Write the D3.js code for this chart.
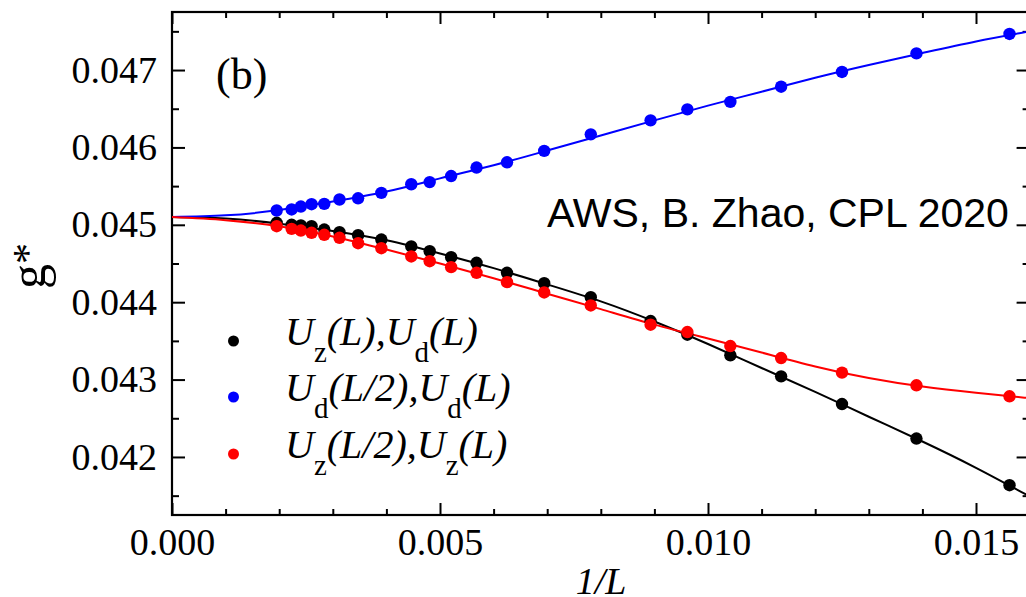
<!DOCTYPE html>
<html><head><meta charset="utf-8">
<script src="https://cdn.jsdelivr.net/npm/d3@7/dist/d3.min.js"></script>
<style>body{margin:0;background:#fff}svg{display:block}</style>
</head><body>
<svg id="c" width="1026" height="597"></svg>
<script>
// ---- data ----
const invL = [0.001953,0.002232,0.002404,0.002604,0.002841,0.003125,0.003472,0.003906,0.004464,0.004808,0.005208,0.005682,0.006250,0.006944,0.007813,0.008929,0.009615,0.010417,0.011364,0.012500,0.013889,0.015625];
const gBlack = [0.045026,0.045000,0.044991,0.044982,0.044939,0.044904,0.044866,0.044810,0.044720,0.044659,0.044582,0.044509,0.044380,0.044246,0.044065,0.043756,0.043580,0.043313,0.043042,0.042684,0.042238,0.041635];
const gBlue  = [0.045185,0.045198,0.045236,0.045266,0.045271,0.045327,0.045343,0.045413,0.045524,0.045552,0.045630,0.045740,0.045808,0.045955,0.046169,0.046350,0.046492,0.046588,0.046785,0.046975,0.047215,0.047466];
const gRed   = [0.044982,0.044948,0.044926,0.044897,0.044871,0.044832,0.044762,0.044698,0.044591,0.044530,0.044453,0.044380,0.044259,0.044126,0.043958,0.043709,0.043614,0.043433,0.043278,0.043090,0.042926,0.042784];
// fitted curves
const fitX     = [0,0.001,0.002,0.003,0.004,0.005,0.006,0.007,0.008,0.009,0.010,0.011,0.012,0.013,0.014,0.015,0.016];
const fitBlack = [0.04510,0.04508,0.045015,0.04492,0.04480,0.04463,0.04444,0.04423,0.04401,0.04375,0.04346,0.04315,0.04284,0.04252,0.04220,0.04186,0.04149];
const fitBlue  = [0.04510,0.045122,0.04519,0.04530,0.04543,0.04560,0.04577,0.04596,0.046155,0.04635,0.04654,0.04672,0.04690,0.047065,0.04722,0.04737,0.04750];
const fitRed   = [0.04510,0.04506,0.04498,0.04485,0.04468,0.04450,0.04431,0.04411,0.04391,0.04371,0.04353,0.04335,0.04317,0.04302,0.04291,0.04283,0.04276];
const xTicks = [0,0.005,0.010,0.015];
const xTickLabels = ["0.000","0.005","0.010","0.015"];
const yTicks = [0.042,0.043,0.044,0.045,0.046,0.047];
const yTickLabels = ["0.042","0.043","0.044","0.045","0.046","0.047"];
const xMinor = [0.001,0.002,0.003,0.004,0.006,0.007,0.008,0.009,0.011,0.012,0.013,0.014];
const yMinor = [0.0415,0.0425,0.0435,0.0445,0.0455,0.0465,0.0475];
const seriesColors = ["#000000","#0000ff","#ff0000"];
const legendLabels = [
  [["U","i"],["z","s"],["(L),U","i"],["d","s"],["(L)","i"]],
  [["U","i"],["d","s"],["(L/2),U","i"],["d","s"],["(L)","i"]],
  [["U","i"],["z","s"],["(L/2),U","i"],["z","s"],["(L)","i"]]
];

// ---- layout ----
const L = 172, T = 12, B = 515, R = 1029.6;
const x = d3.scaleLinear().domain([0,0.016]).range([L,R]);
const y = d3.scaleLinear().domain([0.04125,0.04775]).range([B,T]);
const svg = d3.select("#c");
const serif = "'Liberation Serif','Times New Roman',Times,serif";
const FS = 38;

svg.append("defs").append("clipPath").attr("id","pc").append("rect")
  .attr("x",L).attr("y",T).attr("width",R-L).attr("height",B-T);

function styleAxis(g){
  g.select(".domain").remove();
  g.selectAll(".tick line").attr("stroke","#000").attr("stroke-width",2);
  g.selectAll("text").attr("font-family",serif).attr("font-size",FS).attr("fill","#000");
}
svg.append("g").attr("transform",`translate(0,${B})`)
  .call(d3.axisBottom(x).tickValues(xTicks).tickFormat((d,i)=>xTickLabels[i]).tickSize(-12).tickPadding(13)).call(styleAxis);
svg.append("g").attr("transform",`translate(0,${B})`)
  .call(d3.axisBottom(x).tickValues(xMinor).tickFormat("").tickSize(-6)).call(styleAxis);
svg.append("g").attr("transform",`translate(0,${T})`)
  .call(d3.axisTop(x).tickValues(xTicks).tickFormat("").tickSize(-12)).call(styleAxis);
svg.append("g").attr("transform",`translate(0,${T})`)
  .call(d3.axisTop(x).tickValues(xMinor).tickFormat("").tickSize(-6)).call(styleAxis);
svg.append("g").attr("transform",`translate(${L},0)`)
  .call(d3.axisLeft(y).tickValues(yTicks).tickFormat((d,i)=>yTickLabels[i]).tickSize(-13).tickPadding(15)).call(styleAxis);
svg.append("g").attr("transform",`translate(${L},0)`)
  .call(d3.axisLeft(y).tickValues(yMinor).tickFormat("").tickSize(-7)).call(styleAxis);
svg.append("g").attr("transform",`translate(${R},0)`)
  .call(d3.axisRight(y).tickValues(yTicks).tickFormat("").tickSize(-13)).call(styleAxis);
svg.append("g").attr("transform",`translate(${R},0)`)
  .call(d3.axisRight(y).tickValues(yMinor).tickFormat("").tickSize(-7)).call(styleAxis);

svg.append("rect").attr("x",L).attr("y",T).attr("width",R-L).attr("height",B-T)
  .attr("fill","none").attr("stroke","#000").attr("stroke-width",2.2);

const plot = svg.append("g").attr("clip-path","url(#pc)");
const line = d3.line().x(d=>x(d[0])).y(d=>y(d[1])).curve(d3.curveNatural);
const fits = [fitBlack, fitBlue, fitRed];
const pts = [gBlack, gBlue, gRed];
fits.forEach((f,k)=>{
  plot.append("path").datum(fitX.map((xv,i)=>[xv,f[i]]))
    .attr("d",line).attr("fill","none").attr("stroke",seriesColors[k]).attr("stroke-width",2);
});
pts.forEach((p,k)=>{
  plot.append("g").selectAll("circle").data(invL.map((xv,i)=>[xv,p[i]])).join("circle")
    .attr("cx",d=>x(d[0])).attr("cy",d=>y(d[1])).attr("r",6.2).attr("fill",seriesColors[k]);
});

// legend
const legY = [345,401,458];
legendLabels.forEach((parts,k)=>{
  svg.append("circle").attr("cx",233.5).attr("cy",legY[k]-4).attr("r",5.5).attr("fill",seriesColors[k]);
  const t = svg.append("text").attr("x",285).attr("y",legY[k]).attr("font-family",serif).attr("font-size",40).attr("fill","#000");
  let shifted = false;
  parts.forEach(([s,kind])=>{
    const ts = t.append("tspan").text(s);
    if(kind==="s"){ ts.attr("font-size",29).attr("dy",17); shifted = true; }
    else { ts.attr("font-style","italic"); if(shifted){ ts.attr("dy",-17); shifted=false; } }
  });
});

// annotations
svg.append("text").attr("x",216).attr("y",89).attr("font-family",serif).attr("font-size",44).text("(b)");
svg.append("text").attr("x",547).attr("y",227).attr("font-family","'Liberation Sans',Arial,Helvetica,sans-serif")
  .attr("font-size",41).text("AWS, B. Zhao, CPL 2020");

// axis titles
svg.append("text").attr("x",601).attr("y",594).attr("text-anchor","middle").attr("font-family",serif)
  .attr("font-size",FS).attr("font-style","italic").text("1/L");
const yt = svg.append("text").attr("transform","translate(45,289) rotate(-90)").attr("font-family",serif).attr("font-size",50);
yt.append("tspan").text("g");
yt.append("tspan").attr("dy",-3).attr("font-size",42).text("*");
</script>
</body></html>
